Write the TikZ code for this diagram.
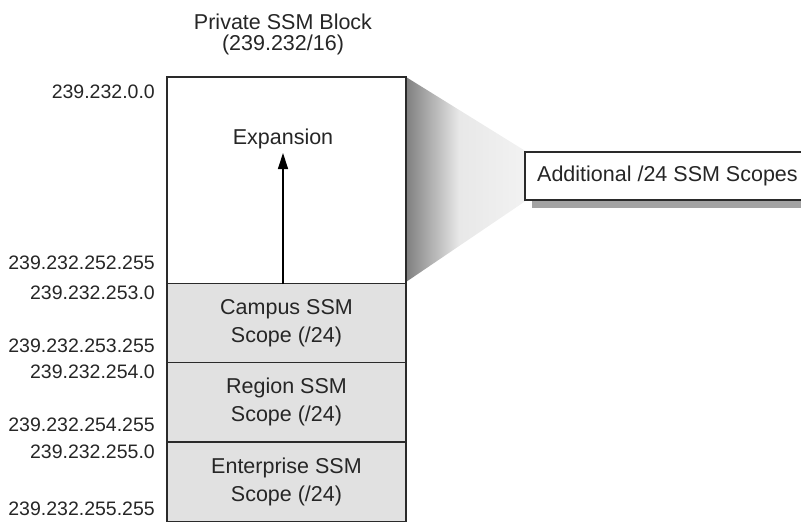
\documentclass[tikz,border=0pt]{standalone}
\usepackage{fontspec}
\setmainfont{Liberation Sans}
\usetikzlibrary{arrows.meta}
\pgfdeclarehorizontalshading{wedgeshade}{100bp}{color(0bp)=(black!50); color(25bp)=(black!50); color(47bp)=(black!9); color(75bp)=(black!5); color(100bp)=(black!5)}
\definecolor{boxgray}{HTML}{E1E1E1}
\definecolor{linegray}{HTML}{2A2A2A}
\definecolor{shadowgray}{HTML}{A3A3A3}
\begin{document}
\begin{tikzpicture}[x=1pt,y=-1pt,
  txt/.style={font=\fontsize{21.5}{28}\selectfont, text=black!85, inner sep=0pt, align=center},
  lbl/.style={font=\fontsize{19.5}{22}\selectfont, text=black!85, inner sep=0pt, anchor=east},
  block/.style={draw=linegray, line width=1.3pt, inner sep=0pt, outer sep=0pt, minimum width=239pt,
     font=\fontsize{21.5}{28}\selectfont, text=black!85, align=center},
  scopebox/.style={block, fill=boxgray, minimum height=79pt}
]
\path[use as bounding box, clip] (0,0) rectangle (801,523);
% shaded wedge
\path[shading=wedgeshade] (406,77) -- (527,152) -- (527,200) -- (406,282) -- cycle;
% additional box shadow and box
\fill[shadowgray] (532,200) rectangle (840,208);
\node[draw=linegray, line width=1.3pt, fill=white, inner sep=0pt, outer sep=0pt,
      minimum width=310pt, minimum height=48pt, anchor=west] (addl) at (525,176) {};
\node[txt, anchor=west] (addltext) at (537,176) {Additional /24 SSM Scopes};
% main blocks
\node[block, fill=white, minimum height=207pt] (exp) at (286.5,180.5) {};
\node[scopebox] (campus) at (286.5,323) {Campus SSM\\Scope (/24)};
\node[scopebox] (region) at (286.5,402) {Region SSM\\Scope (/24)};
\node[scopebox] (ent) at (286.5,482) {Enterprise SSM\\Scope (/24)};
% title
\node[txt] (title) at (283,22) {Private SSM Block};
\node[txt] (title2) at (283,45) {(239.232/16)};
% expansion
\node[txt] (exptext) at (283,139) {Expansion};
\coordinate (tip) at (283,153);
\draw[line width=1.3pt, draw=black, -{Triangle[length=16pt,width=10pt]}] (exp.south -| tip) -- (tip);
% address labels
\node[lbl] (a1) at (155,92) {239.232.0.0};
\node[lbl] (a2) at (155,263) {239.232.252.255};
\node[lbl] (a3) at (155,293) {239.232.253.0};
\node[lbl] (a4) at (155,346) {239.232.253.255};
\node[lbl] (a5) at (155,372) {239.232.254.0};
\node[lbl] (a6) at (155,425) {239.232.254.255};
\node[lbl] (a7) at (155,452) {239.232.255.0};
\node[lbl] (a8) at (155,509) {239.232.255.255};
\end{tikzpicture}
\end{document}
